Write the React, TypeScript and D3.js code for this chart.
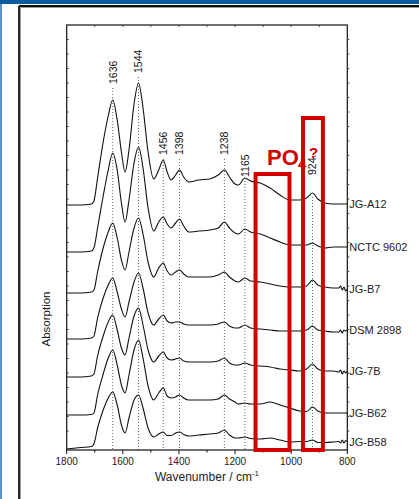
import React from 'react';
import * as d3 from 'd3';

// wavenumber grid (cm-1)
const wavenumbers = [1800, 1750, 1712, 1703, 1690, 1670, 1652, 1636, 1620, 1605, 1592, 1578, 1560, 1544, 1528, 1510, 1490, 1472, 1456, 1442, 1428, 1412, 1398, 1383, 1365, 1330, 1290, 1260, 1238, 1220, 1200, 1188, 1165, 1145, 1110, 1075, 1040, 1005, 970, 945, 924, 905, 880, 850, 830, 824, 818, 812, 806, 800];

const sampleNames = ['JG-A12', 'NCTC 9602', 'JG-B7', 'DSM 2898', 'JG-7B', 'JG-B62', 'JG-B58'];

// stacked absorption (a.u., offset included)
const absJGA12 = [2.45, 2.45, 2.46, 2.49, 2.72, 3.08, 3.34, 3.50, 3.30, 2.98, 2.78, 3.00, 3.46, 3.67, 3.42, 2.98, 2.71, 2.80, 2.90, 2.78, 2.70, 2.75, 2.80, 2.73, 2.68, 2.70, 2.71, 2.75, 2.80, 2.73, 2.66, 2.65, 2.72, 2.69, 2.67, 2.62, 2.55, 2.50, 2.50, 2.52, 2.57, 2.51, 2.47, 2.46, 2.46, 2.46, 2.46, 2.46, 2.46, 2.46];
const absNCTC9602 = [1.98, 1.98, 1.99, 2.02, 2.22, 2.54, 2.80, 2.97, 2.80, 2.47, 2.28, 2.50, 2.87, 3.03, 2.82, 2.42, 2.19, 2.28, 2.33, 2.26, 2.22, 2.27, 2.31, 2.24, 2.18, 2.19, 2.20, 2.22, 2.28, 2.22, 2.17, 2.16, 2.21, 2.18, 2.16, 2.12, 2.08, 2.05, 2.05, 2.05, 2.07, 2.04, 2.02, 2.03, 2.03, 2.03, 2.03, 2.03, 2.03, 2.03];
const absJGB7 = [1.57, 1.57, 1.58, 1.60, 1.78, 2.02, 2.18, 2.27, 2.12, 1.90, 1.80, 1.98, 2.22, 2.32, 2.16, 1.88, 1.73, 1.82, 1.87, 1.79, 1.75, 1.78, 1.80, 1.76, 1.73, 1.73, 1.73, 1.75, 1.78, 1.73, 1.69, 1.68, 1.72, 1.69, 1.68, 1.66, 1.64, 1.63, 1.63, 1.64, 1.70, 1.65, 1.63, 1.62, 1.62, 1.64, 1.60, 1.63, 1.59, 1.61];
const absDSM2898 = [1.11, 1.11, 1.12, 1.14, 1.32, 1.52, 1.65, 1.72, 1.58, 1.41, 1.33, 1.48, 1.68, 1.77, 1.62, 1.37, 1.25, 1.31, 1.35, 1.29, 1.27, 1.28, 1.28, 1.26, 1.25, 1.25, 1.25, 1.26, 1.28, 1.24, 1.22, 1.22, 1.25, 1.22, 1.21, 1.20, 1.19, 1.19, 1.19, 1.20, 1.24, 1.20, 1.19, 1.18, 1.18, 1.20, 1.17, 1.20, 1.19, 1.20];
const absJG7B = [0.73, 0.73, 0.74, 0.76, 0.94, 1.14, 1.28, 1.35, 1.20, 1.02, 0.95, 1.12, 1.34, 1.42, 1.25, 1.00, 0.88, 0.94, 0.98, 0.92, 0.90, 0.91, 0.92, 0.89, 0.88, 0.88, 0.88, 0.89, 0.92, 0.87, 0.85, 0.85, 0.87, 0.85, 0.84, 0.83, 0.81, 0.80, 0.79, 0.81, 0.86, 0.81, 0.79, 0.79, 0.78, 0.80, 0.76, 0.79, 0.77, 0.79];
const absJGB62 = [0.35, 0.35, 0.355, 0.37, 0.55, 0.76, 0.92, 1.00, 0.85, 0.65, 0.57, 0.75, 1.00, 1.10, 0.92, 0.64, 0.50, 0.57, 0.62, 0.54, 0.52, 0.53, 0.55, 0.52, 0.50, 0.50, 0.50, 0.51, 0.55, 0.51, 0.48, 0.46, 0.47, 0.46, 0.46, 0.48, 0.45, 0.42, 0.39, 0.385, 0.43, 0.39, 0.37, 0.37, 0.37, 0.37, 0.37, 0.37, 0.37, 0.37];
const absJGB58 = [0.01, 0.025, 0.035, 0.06, 0.22, 0.40, 0.52, 0.58, 0.45, 0.25, 0.17, 0.32, 0.50, 0.55, 0.42, 0.22, 0.13, 0.16, 0.18, 0.145, 0.145, 0.17, 0.18, 0.155, 0.14, 0.15, 0.16, 0.17, 0.20, 0.15, 0.12, 0.12, 0.13, 0.115, 0.11, 0.12, 0.10, 0.08, 0.085, 0.085, 0.10, 0.075, 0.075, 0.08, 0.085, 0.07, 0.10, 0.07, 0.095, 0.08];

const seriesValues = [absJGA12, absNCTC9602, absJGB7, absDSM2898, absJG7B, absJGB62, absJGB58];

// marked bands
const peakPositions = [1636, 1544, 1456, 1398, 1238, 1165, 924];
const peakLabels = ['1636', '1544', '1456', '1398', '1238', '1165', '924.'];
const peakLabelLevels = [3.66, 3.77, 2.95, 2.95, 2.95, 2.73, 2.75];
const peakLineTops = [3.62, 3.73, 2.91, 2.91, 2.91, 2.69, 2.53];

// x axis ticks
const xMajorTicks = [1800, 1600, 1400, 1200, 1000, 800];
const xMinorTicks = [1700, 1500, 1300, 1100, 900];

// highlighted regions [from, to, top level]
const boxFrom = [1127, 958];
const boxTo = [1006, 887];
const boxTop = [2.76, 3.32];

const W = 419;
const H = 499;
const M = { left: 66.7, right: 347.3, top: 25, bottom: 450 };
const FONT = 'Arial, "Liberation Sans", Helvetica, sans-serif';
const RED = '#d40000';

export default function App() {
  const x = d3.scaleLinear().domain([1800, 800]).range([M.left, M.right]);
  const y = d3.scaleLinear().domain([0, 4.25]).range([M.bottom, M.top]);
  const line = d3
    .line<number>()
    .x((_, i) => x(wavenumbers[i]))
    .y((d) => y(d))
    .curve(d3.curveMonotoneX);

  const yTicks = d3.range(4.25 - 0.145, 0.05, -0.145);
  const topTicks = d3.range(1700, 800, -100);

  return (
    <svg
      width={W}
      height={H}
      style={{ position: 'fixed', left: 0, top: 0, background: '#fff' }}
      fontFamily={FONT}
    >
      <rect x={0} y={0} width={W} height={H} fill="#fff" />
      {/* page frame */}
      <rect x={0} y={0} width={W} height={4} fill="#0b5ba0" />
      <rect x={0} y={4} width={2} height={H - 4} fill="#5b93c8" />
      <line x1={19} y1={6} x2={W} y2={6} stroke="#111" strokeWidth={1.8} />
      <line x1={19} y1={6} x2={19} y2={H} stroke="#111" strokeWidth={1.8} />
      <line x1={20.5} y1={7.5} x2={W} y2={7.5} stroke="#999" strokeWidth={1} />
      <line x1={20.5} y1={7.5} x2={20.5} y2={H} stroke="#999" strokeWidth={1} />

      {/* dotted band lines */}
      {peakPositions.map((p, i) => (
        <line
          key={'d' + p}
          x1={x(p)}
          x2={x(p)}
          y1={y(peakLineTops[i])}
          y2={M.bottom}
          stroke="#666"
          strokeWidth={1}
          strokeDasharray="1,2"
        />
      ))}

      {/* spectra */}
      {seriesValues.map((vals, k) => (
        <path key={'s' + k} d={line(vals) || ''} fill="none" stroke="#111" strokeWidth={1.1} />
      ))}

      {/* plot frame */}
      <rect
        x={M.left}
        y={M.top}
        width={M.right - M.left}
        height={M.bottom - M.top}
        fill="none"
        stroke="#111"
        strokeWidth={1.2}
      />
      {/* axis ticks */}
      {xMajorTicks.map((t) => (
        <line key={'xM' + t} x1={x(t)} x2={x(t)} y1={M.bottom} y2={M.bottom + 4} stroke="#111" strokeWidth={1} />
      ))}
      {xMinorTicks.map((t) => (
        <line key={'xm' + t} x1={x(t)} x2={x(t)} y1={M.bottom} y2={M.bottom + 2.5} stroke="#111" strokeWidth={1} />
      ))}
      {topTicks.map((t) => (
        <line key={'xt' + t} x1={x(t)} x2={x(t)} y1={M.top} y2={M.top + 2} stroke="#444" strokeWidth={1} />
      ))}
      {yTicks.map((t, i) => (
        <g key={'yt' + i}>
          <line x1={M.right} x2={M.right + 2} y1={y(t)} y2={y(t)} stroke="#444" strokeWidth={1} />
          <line x1={M.left} x2={M.left + 2} y1={y(t)} y2={y(t)} stroke="#444" strokeWidth={1} />
        </g>
      ))}
      {xMajorTicks.map((t) => (
        <text key={'xl' + t} x={x(t)} y={M.bottom + 15} fontSize={10} textAnchor="middle" fill="#222">
          {t}
        </text>
      ))}
      <text x={(M.left + M.right) / 2} y={480.5} fontSize={12} textAnchor="middle" fill="#222">
        Wavenumber / cm
        <tspan fontSize={8} dy={-5}>-1</tspan>
      </text>
      <text
        transform={`translate(${50},${319}) rotate(-90)`}
        fontSize={11.5}
        textAnchor="middle"
        fill="#222"
      >
        Absorption
      </text>

      {/* peak labels */}
      {peakPositions.map((p, i) => (
        <text
          key={'pl' + p}
          transform={`translate(${x(p) + 3.8},${y(peakLabelLevels[i])}) rotate(-90)`}
          fontSize={10.5}
          fill="#111"
        >
          {peakLabels[i]}
        </text>
      ))}

      {/* sample names */}
      {seriesValues.map((vals, k) => (
        <text
          key={'n' + k}
          x={M.right + 2}
          y={y(vals[vals.length - 1])}
          dy="0.35em"
          fontSize={11}
          fill="#222"
        >
          {sampleNames[k]}
        </text>
      ))}

      {/* highlighted regions */}
      {boxFrom.map((b, i) => (
        <rect
          key={'b' + i}
          x={x(b)}
          y={y(boxTop[i])}
          width={x(boxTo[i]) - x(b)}
          height={M.bottom - y(boxTop[i])}
          fill="none"
          stroke={RED}
          strokeWidth={4}
        />
      ))}
      <text x={267} y={165} fontSize={22} fontWeight="bold" fill={RED}>
        PO
      </text>
      <text x={298} y={169} fontSize={15} fontWeight="bold" fill={RED}>
        4
      </text>
      <text x={309} y={158} fontSize={15} fontWeight="bold" fill={RED}>
        ?
      </text>
    </svg>
  );
}
